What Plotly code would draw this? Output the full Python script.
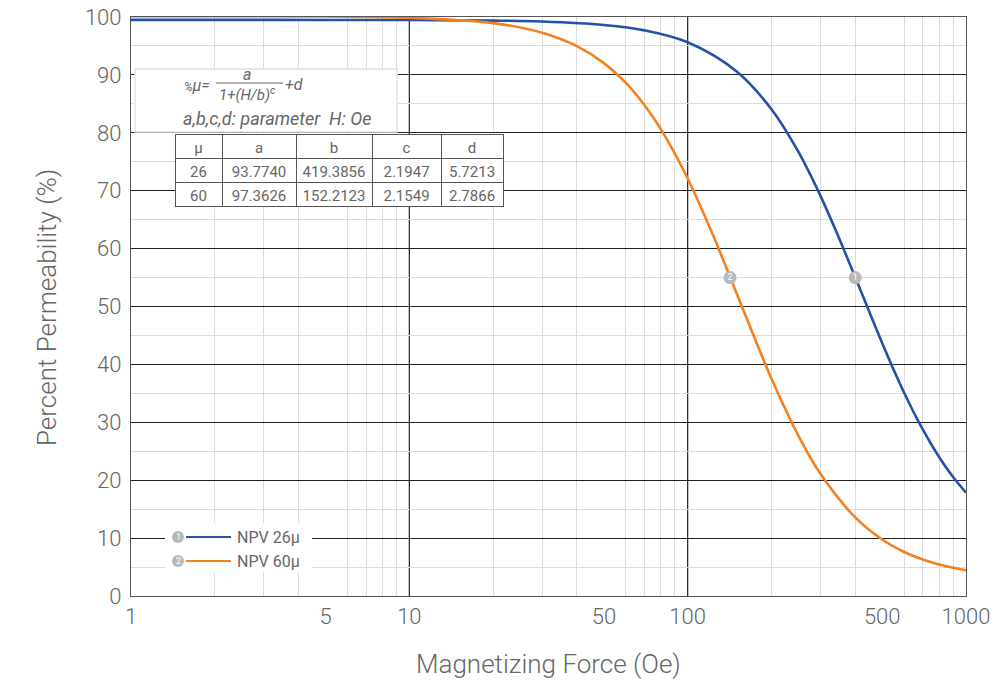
import plotly.graph_objects as go

# ---- data ----
H_26 = [1, 2, 5, 10, 20, 30, 50, 70, 100, 150, 200, 250, 300, 350, 400, 500, 600, 700, 800, 900, 1000]
P_26 = [99.5, 99.5, 99.49, 99.47, 99.38, 99.21, 98.62, 97.69, 95.63, 90.60, 84.07, 76.69, 69.11, 61.79,
        55.04, 43.67, 35.07, 28.72, 24.01, 20.50, 17.85]
H_60 = [1, 2, 5, 10, 20, 30, 40, 50, 60, 70, 80, 100, 125, 150, 200, 250, 300, 400, 500, 600, 700, 800, 1000]
P_60 = [100.15, 100.14, 100.09, 99.87, 98.94, 97.29, 94.97, 92.04, 88.61, 84.77, 80.67, 72.11, 61.65,
        52.24, 37.55, 27.67, 21.10, 13.58, 9.75, 7.60, 6.29, 5.44, 4.44]
series_names = ["NPV 26µ", "NPV 60µ"]
marker_H = [400, 142]
marker_P = [55, 55]
marker_labels = ["1", "2"]

table_header = ["μ", "a", "b", "c", "d"]
table_mu = ["26", "60"]
table_a = ["93.7740", "97.3626"]
table_b = ["419.3856", "152.2123"]
table_c = ["2.1947", "2.1549"]
table_d = ["5.7213", "2.7866"]

x_tickvals = [1, 5, 10, 50, 100, 500, 1000]
x_ticktext = ["1", "5", "10", "50", "100", "500", "1000"]
x_minor = [2, 3, 4, 6, 7, 8, 9, 20, 30, 40, 60, 70, 80, 90, 200, 300, 400, 600, 700, 800, 900]
x_decades = [10, 100]

BLUE = "#2452A5"
ORANGE = "#F4811F"
GREY_TXT = "#666666"
FONT = "Roboto"

W, H = 1006, 685
# plot area in window pixels: x 131..966, y 17..596
X0, X1, Y0, Y1 = 131, 966, 17, 596
L, T = X0, Y0
R, B = W - X1, H - Y1


def px(x):
    return (x - X0) / (X1 - X0)


def py(y):
    return (Y1 - y) / (Y1 - Y0)


fig = go.Figure()

fig.add_trace(go.Scatter(x=H_26, y=P_26, mode="lines", line=dict(color=BLUE, width=2.6, shape="spline"),
                         name=series_names[0], showlegend=False, hoverinfo="skip"))
fig.add_trace(go.Scatter(x=H_60, y=P_60, mode="lines", line=dict(color=ORANGE, width=2.6, shape="spline"),
                         name=series_names[1], showlegend=False, hoverinfo="skip"))
fig.add_trace(go.Scatter(x=marker_H, y=marker_P, mode="markers+text", text=marker_labels,
                         textposition="middle center",
                         textfont=dict(color="white", size=9, family=FONT),
                         marker=dict(color="#b9b9b9", size=13, line=dict(width=0)),
                         showlegend=False, hoverinfo="skip"))

# parameter table
fig.add_trace(go.Table(
    domain=dict(x=[px(175), px(503)], y=[py(218), py(134)]),
    columnwidth=[47, 74, 76, 69, 62],
    header=dict(values=table_header, fill_color="white", line_color="#555", height=24,
                font=dict(color=GREY_TXT, size=15, family=FONT), align="center"),
    cells=dict(values=[table_mu, table_a, table_b, table_c, table_d], fill_color="white",
               line_color="#555", height=24,
               font=dict(color=GREY_TXT, size=15, family=FONT), align="center"),
))

shapes = []
for d in x_decades:
    shapes.append(dict(type="line", xref="x", yref="paper", x0=d, x1=d, y0=0, y1=1,
                       line=dict(color="#222", width=1.2), layer="below"))
# formula box
shapes.append(dict(type="rect", xref="paper", yref="paper", x0=px(135), x1=px(397), y0=py(132), y1=py(69),
                   fillcolor="white", line=dict(color="#e2e2e2", width=1.5), layer="above"))
shapes.append(dict(type="line", xref="paper", yref="paper", x0=px(216), x1=px(283), y0=py(83), y1=py(83),
                   line=dict(color=GREY_TXT, width=1), layer="above"))
# legend box
shapes.append(dict(type="rect", xref="paper", yref="paper", x0=px(165), x1=px(312), y0=py(572), y1=py(523),
                   fillcolor="white", line=dict(width=0), layer="above"))
leg_y = [537, 561]
leg_col = [BLUE, ORANGE]
for i in range(2):
    shapes.append(dict(type="line", xref="paper", yref="paper", x0=px(186), x1=px(231),
                       y0=py(leg_y[i]), y1=py(leg_y[i]), line=dict(color=leg_col[i], width=2), layer="above"))
    shapes.append(dict(type="circle", xref="paper", yref="paper", x0=px(172), x1=px(184),
                       y0=py(leg_y[i] + 6), y1=py(leg_y[i] - 6), fillcolor="#b9b9b9",
                       line=dict(width=0), layer="above"))

annotations = []
fi = dict(color=GREY_TXT, size=16, family=FONT, style="italic")
annotations.append(dict(xref="paper", yref="paper", x=px(182), y=py(85),
                        text="<span style='font-size:12px'>%</span>μ=",
                        showarrow=False, xanchor="left", yanchor="middle", font=fi))
annotations.append(dict(xref="paper", yref="paper", x=px(247), y=py(74), text="a",
                        showarrow=False, xanchor="center", yanchor="middle", font=fi))
annotations.append(dict(xref="paper", yref="paper", x=px(247), y=py(94), text="1+(H/b)<sup>c</sup>",
                        showarrow=False, xanchor="center", yanchor="middle",
                        font=dict(color=GREY_TXT, size=15, family=FONT, style="italic")))
annotations.append(dict(xref="paper", yref="paper", x=px(283), y=py(84), text="+d",
                        showarrow=False, xanchor="left", yanchor="middle", font=fi))
annotations.append(dict(xref="paper", yref="paper", x=px(181), y=py(118), text="a,b,c,d: parameter  H: Oe",
                        showarrow=False, xanchor="left", yanchor="middle",
                        font=dict(color=GREY_TXT, size=18, family=FONT, style="italic")))
for i in range(2):
    annotations.append(dict(xref="paper", yref="paper", x=px(178), y=py(leg_y[i]), text=marker_labels[i],
                            showarrow=False, xanchor="center", yanchor="middle",
                            font=dict(color="white", size=9, family=FONT)))
    annotations.append(dict(xref="paper", yref="paper", x=px(235), y=py(leg_y[i]), text=series_names[i],
                            showarrow=False, xanchor="left", yanchor="middle",
                            font=dict(color=GREY_TXT, size=16, family=FONT)))
# axis titles
annotations.append(dict(xref="paper", yref="paper", x=px(548), y=py(664), text="Magnetizing Force (Oe)",
                        showarrow=False, xanchor="center", yanchor="middle",
                        font=dict(color=GREY_TXT, size=26, family=FONT, weight=300)))
annotations.append(dict(xref="paper", yref="paper", x=px(47), y=py(308), text="Percent Permeability (%)",
                        showarrow=False, xanchor="center", yanchor="middle", textangle=-90,
                        font=dict(color=GREY_TXT, size=26, family=FONT, weight=300)))

tickfont = dict(size=22, color=GREY_TXT, family=FONT, weight=300)
fig.update_layout(
    width=W, height=H,
    margin=dict(l=L, r=R, t=T, b=B),
    paper_bgcolor="white", plot_bgcolor="white",
    shapes=shapes, annotations=annotations,
    font=dict(family=FONT, color=GREY_TXT),
    xaxis=dict(type="log", range=[0, 3], tickvals=x_tickvals, ticktext=x_ticktext,
               showgrid=False, zeroline=False, automargin=False, ticklabeloverflow="allow",
               minor=dict(tickvals=x_minor, showgrid=True, gridcolor="#dcdcdc", gridwidth=1, ticks=""),
               showline=True, mirror=True, linecolor="#555", linewidth=1.2, ticks="",
               tickfont=tickfont),
    yaxis=dict(range=[0, 100], dtick=10, showgrid=True, gridcolor="#222", gridwidth=1.1, zeroline=False,
               automargin=False, ticklabelstandoff=4, ticklabeloverflow="allow",
               minor=dict(dtick=5, showgrid=True, gridcolor="#dcdcdc", gridwidth=1, ticks=""),
               showline=True, mirror=True, linecolor="#555", linewidth=1.2, ticks="",
               tickfont=tickfont),
)

fig.write_html("out.html", config={"displayModeBar": False},
               post_script="document.body.style.margin='0px';document.body.style.overflow='hidden';")
